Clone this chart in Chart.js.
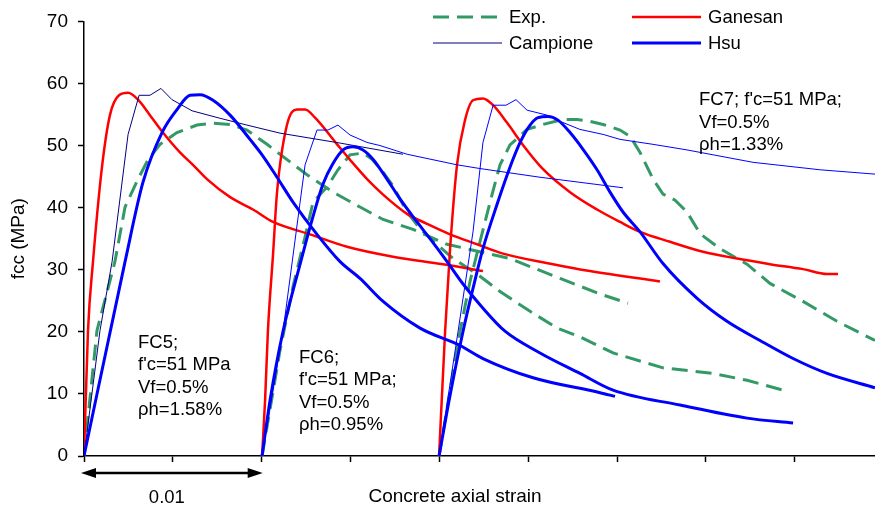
<!DOCTYPE html>
<html>
<head>
<meta charset="utf-8">
<script src="https://cdn.jsdelivr.net/npm/chart.js@4.4.1/dist/chart.umd.min.js"></script>
<style>
  body { margin: 0; background: #fff; }
  #wrap { width: 875px; height: 508px; }
</style>
</head>
<body>
<div id="wrap"><canvas id="stressStrain" width="875" height="508"></canvas></div>
<script>
// axial strain (curves of FC6 and FC7 are shifted by 0.01 and 0.02) / stress fcc in MPa
var exp5X = [0, 0.00073, 0.00174, 0.00231, 0.00304, 0.0036, 0.00428, 0.00523, 0.00636, 0.00726, 0.00822, 0.00917, 0.0103, 0.01103, 0.01176, 0.01255, 0.01401, 0.01553, 0.01683, 0.01851, 0.02043, 0.02397, 0.02679, 0.02904, 0.03061];
var exp5Y = [0, 20.2, 31.3, 40.1, 44.6, 47.7, 50.2, 52.1, 53.3, 53.6, 53.4, 52.5, 50.2, 48.6, 47.0, 45.3, 42.5, 40.1, 38.1, 36.5, 34.1, 31.8, 28.6, 26.1, 24.6];
var gan5X = [0, 0.000225, 0.000506, 0.00101, 0.00146, 0.00197, 0.00248, 0.00304, 0.00371, 0.00444, 0.0054, 0.00613, 0.00692, 0.00822, 0.00951, 0.01064, 0.01272, 0.0148, 0.01739, 0.0202, 0.02245];
var gan5Y = [0, 20.2, 31.3, 46.5, 54.9, 58.1, 58.5, 57.4, 54.9, 52.1, 48.9, 46.9, 44.6, 41.7, 39.7, 37.7, 35.7, 33.7, 32.1, 30.9, 29.8];
var cam5X = [0, 0.0009, 0.00158, 0.00248, 0.0031, 0.00371, 0.00433, 0.00495, 0.00608, 0.00765, 0.00917, 0.01103, 0.01441, 0.01795];
var cam5Y = [0, 20.2, 31.3, 51.8, 58.1, 58.1, 59.2, 57.4, 55.6, 54.4, 53.3, 52.0, 50.4, 48.6];
var hsu5X = [0, 0.00231, 0.00332, 0.00439, 0.00523, 0.00597, 0.00653, 0.00726, 0.00822, 0.00934, 0.01002, 0.01086, 0.01176, 0.01311, 0.01441, 0.01553, 0.01683, 0.01891, 0.02116, 0.02245, 0.02527, 0.02904, 0.02988];
var hsu5Y = [0, 31.3, 44.1, 52.1, 55.8, 58.1, 58.2, 57.3, 54.9, 51.0, 48.5, 44.9, 40.9, 35.7, 31.3, 28.6, 24.9, 20.6, 17.8, 15.7, 12.6, 10.2, 9.6];

var exp6X = [0.01002, 0.01103, 0.01176, 0.01244, 0.01289, 0.01367, 0.01429, 0.01497, 0.0157, 0.01621, 0.01683, 0.01739, 0.01818, 0.01891, 0.01986, 0.02077, 0.02212, 0.02341, 0.0251, 0.02662, 0.02791, 0.02977, 0.03258, 0.0354, 0.03731, 0.03934];
var exp6Y = [0, 17.0, 27.3, 35.3, 40.9, 43.3, 46.1, 48.5, 48.8, 47.8, 45.7, 43.5, 39.3, 36.6, 34.1, 31.8, 29.3, 26.5, 23.3, 20.6, 19.2, 16.6, 14.2, 13.3, 12.2, 10.6];
var gan6X = [0.01002, 0.01019, 0.01035, 0.01064, 0.01086, 0.01142, 0.01199, 0.01244, 0.013, 0.01424, 0.01497, 0.01593, 0.01683, 0.01818, 0.0193, 0.0206, 0.02212, 0.02358, 0.02639, 0.02847, 0.03241];
var gan6Y = [0, 9.0, 20.2, 32.6, 42.4, 53.3, 55.8, 55.8, 54.5, 50.2, 47.7, 44.6, 42.1, 39.0, 37.4, 35.7, 34.1, 32.6, 30.9, 29.8, 28.1];
var cam6X = [0.01002, 0.0112, 0.01216, 0.01244, 0.01311, 0.01373, 0.01429, 0.01497, 0.01593, 0.01666, 0.01818, 0.02099, 0.02228, 0.02566, 0.03033];
var cam6Y = [0, 20.1, 40.9, 46.9, 52.5, 52.5, 53.3, 51.7, 50.5, 50.0, 48.6, 46.9, 46.3, 44.9, 43.2];
var hsu6X = [0.01002, 0.01047, 0.0112, 0.01216, 0.01283, 0.01345, 0.01401, 0.01458, 0.01514, 0.0157, 0.01626, 0.01705, 0.01778, 0.01874, 0.01947, 0.02043, 0.02133, 0.02245, 0.02369, 0.02566, 0.02791, 0.02977, 0.03354, 0.03731, 0.0399];
var hsu6Y = [0, 9.0, 20.1, 30.9, 38.0, 43.8, 47.1, 49.3, 49.8, 49.3, 47.8, 44.6, 41.4, 37.7, 35.0, 31.3, 27.7, 23.8, 20.1, 16.6, 13.3, 10.6, 8.2, 6.1, 5.3];

var exp7X = [0.01998, 0.02116, 0.02172, 0.02228, 0.02296, 0.02341, 0.02397, 0.02493, 0.02583, 0.02696, 0.02774, 0.02847, 0.02921, 0.03016, 0.03073, 0.03129, 0.03202, 0.03258, 0.03326, 0.03393, 0.03467, 0.03579, 0.03731, 0.0386, 0.04046, 0.04237, 0.04451];
var exp7Y = [0, 20.1, 28.1, 34.5, 42.1, 46.9, 50.1, 52.6, 53.4, 54.2, 54.2, 53.9, 53.4, 52.5, 51.5, 48.9, 44.6, 42.2, 41.2, 39.3, 35.8, 33.4, 30.9, 27.8, 24.9, 21.7, 18.6];
var gan7X = [0.01998, 0.02032, 0.0206, 0.02099, 0.02144, 0.02189, 0.02245, 0.02302, 0.0238, 0.0247, 0.02583, 0.02735, 0.02887, 0.03016, 0.03129, 0.03298, 0.03483, 0.03675, 0.0386, 0.04046, 0.04181, 0.04243];
var gan7Y = [0, 20.1, 33.4, 46.9, 54.1, 57.3, 57.6, 56.5, 53.7, 50.1, 46.2, 42.5, 39.7, 37.7, 36.1, 34.5, 32.9, 31.8, 30.9, 30.1, 29.3, 29.3];
var cam7X = [0.01998, 0.02105, 0.02189, 0.02245, 0.02302, 0.02375, 0.02431, 0.02493, 0.02606, 0.02679, 0.02791, 0.02921, 0.03016, 0.03202, 0.03393, 0.03765, 0.04142, 0.04451];
var cam7Y = [0, 20.1, 36.1, 50.5, 56.5, 56.5, 57.4, 55.7, 54.9, 53.9, 52.6, 51.8, 51.0, 50.2, 49.3, 47.3, 46.1, 45.4];
var hsu7X = [0.01998, 0.0206, 0.02133, 0.02189, 0.02245, 0.02324, 0.02397, 0.02454, 0.0251, 0.02555, 0.02611, 0.02667, 0.02735, 0.02808, 0.02887, 0.0296, 0.03033, 0.03129, 0.03258, 0.0345, 0.03618, 0.03804, 0.0399, 0.04181, 0.04451];
var hsu7Y = [0, 9.8, 20.1, 27.0, 33.4, 40.5, 46.5, 50.5, 53.3, 54.5, 54.7, 54.1, 52.1, 49.4, 46.1, 42.5, 39.3, 36.1, 31.0, 25.4, 21.7, 18.6, 15.7, 13.3, 11.0];

var seriesNames = ["Exp.", "Ganesan", "Campione", "Hsu"];
var yTicks = [0, 10, 20, 30, 40, 50, 60, 70];
var scaleBarStrain = 0.01;
var scaleBarLabel = "0.01";
var xTitle = "Concrete axial strain";
var yTitle = "fcc (MPa)";
// specimen notes: lines of text + anchor (strain, stress) of the first baseline
var notes = [
    { at: [0.00304, 17.4], lines: ["FC5;", "f'c=51 MPa", "Vf=0.5%", "ρh=1.58%"] },
    { at: [0.0121, 15.0], lines: ["FC6;", "f'c=51 MPa;", "Vf=0.5%", "ρh=0.95%"] },
    { at: [0.03461, 56.5], lines: ["FC7; f'c=51 MPa;", "Vf=0.5%", "ρh=1.33%"] }
];

var FONT = "'Liberation Sans', Arial, sans-serif";

var styles = {
    "Exp.": { borderColor: "#339966", borderWidth: 3, borderDash: [16, 8], tension: 0 },
    "Ganesan": { borderColor: "#ff0000", borderWidth: 2.5, cubicInterpolationMode: "monotone" },
    "Campione": { borderColor: "#0000ff", borderWidth: 1, tension: 0 },
    "Hsu": { borderColor: "#0000ff", borderWidth: 3, cubicInterpolationMode: "monotone" }
};

function curve(name, xs, ys, extra) {
    var ds = { label: name, data: xs.map(function (x, i) { return { x: x, y: ys[i] }; }),
               pointRadius: 0, fill: false };
    Object.assign(ds, styles[name], extra || {});
    return ds;
}

var datasets = [
    curve("Hsu", hsu5X, hsu5Y), curve("Hsu", hsu6X, hsu6Y), curve("Hsu", hsu7X, hsu7Y),
    curve("Campione", cam5X, cam5Y, { borderColor: "#000080" }), curve("Campione", cam6X, cam6Y), curve("Campione", cam7X, cam7Y),
    curve("Ganesan", gan5X, gan5Y), curve("Ganesan", gan6X, gan6Y), curve("Ganesan", gan7X, gan7Y),
    curve("Exp.", exp5X, exp5Y), curve("Exp.", exp6X, exp6Y), curve("Exp.", exp7X, exp7Y)
];

var overlay = {
    id: "overlay",
    afterDraw: function (chart) {
        var ctx = chart.ctx, xs = chart.scales.x, ys = chart.scales.y;
        ctx.save();
        ctx.fillStyle = "#000";

        // legend, 2 x 2
        var cols = [433, 632], rows = [17, 43];
        ctx.font = "18.5px " + FONT;
        ctx.textBaseline = "middle";
        ctx.textAlign = "left";
        seriesNames.forEach(function (name, i) {
            var lx = cols[i % 2], ly = rows[Math.floor(i / 2)];
            var st = styles[name];
            ctx.beginPath();
            ctx.strokeStyle = name === "Campione" ? "#000080" : st.borderColor;
            ctx.lineWidth = st.borderWidth;
            ctx.setLineDash(st.borderDash || []);
            ctx.moveTo(lx, ly);
            ctx.lineTo(lx + 69, ly);
            ctx.stroke();
            ctx.setLineDash([]);
            ctx.fillText(name, lx + 76, ly + 1);
        });

        // specimen notes
        ctx.textBaseline = "alphabetic";
        notes.forEach(function (n) {
            var px = xs.getPixelForValue(n.at[0]), py = ys.getPixelForValue(n.at[1]);
            n.lines.forEach(function (t, k) { ctx.fillText(t, px, py + k * 22.5); });
        });

        // 0.01 scale arrow
        var x0 = xs.getPixelForValue(0), x1 = xs.getPixelForValue(scaleBarStrain), ay = 473;
        ctx.strokeStyle = "#000";
        ctx.lineWidth = 2.5;
        ctx.beginPath();
        ctx.moveTo(x0 + 8, ay);
        ctx.lineTo(x1 - 8, ay);
        ctx.stroke();
        [[x0 - 3, 1], [x1 + 1, -1]].forEach(function (a) {
            ctx.beginPath();
            ctx.moveTo(a[0], ay);
            ctx.lineTo(a[0] + a[1] * 15, ay - 5);
            ctx.lineTo(a[0] + a[1] * 15, ay + 5);
            ctx.closePath();
            ctx.fill();
        });
        ctx.textAlign = "center";
        ctx.fillText(scaleBarLabel, (x0 + x1) / 2 - 6, 503);

        // x axis title
        ctx.font = "19px " + FONT;
        ctx.fillText(xTitle, 455, 502);
        ctx.restore();
    }
};

new Chart("stressStrain", {
    type: "line",
    data: { datasets: datasets },
    options: {
        responsive: false,
        animation: false,
        devicePixelRatio: 1,
        layout: { padding: { top: 18, right: 0, bottom: 0, left: 0 } },
        plugins: { legend: { display: false }, tooltip: { enabled: false } },
        scales: {
            x: {
                type: "linear",
                min: 0,
                max: 0.04451,
                ticks: { display: false, stepSize: 0.005 },
                afterBuildTicks: function (s) {
                    s.ticks = s.ticks.filter(function (t) {
                        var r = t.value / 0.005;
                        return Math.abs(r - Math.round(r)) < 1e-6;
                    });
                },
                grid: { drawOnChartArea: false, tickLength: 6, color: "#000", tickWidth: 1.5 },
                border: { color: "#000", width: 1.5 },
                afterFit: function (s) { s.height = 52; }
            },
            y: {
                min: 0,
                max: 70,
                afterBuildTicks: function (s) {
                    s.ticks = yTicks.map(function (v) { return { value: v }; });
                },
                ticks: { color: "#000", padding: 10, font: { size: 19, family: FONT } },
                grid: { drawOnChartArea: false, tickLength: 6, color: "#000", tickWidth: 1.5 },
                border: { color: "#000", width: 1.5 },
                title: { display: true, text: yTitle, color: "#000", padding: { top: 7, bottom: 0 },
                         font: { size: 19, family: FONT } },
                afterFit: function (s) { s.width = 84; }
            }
        }
    },
    plugins: [overlay]
});
</script>
</body>
</html>
